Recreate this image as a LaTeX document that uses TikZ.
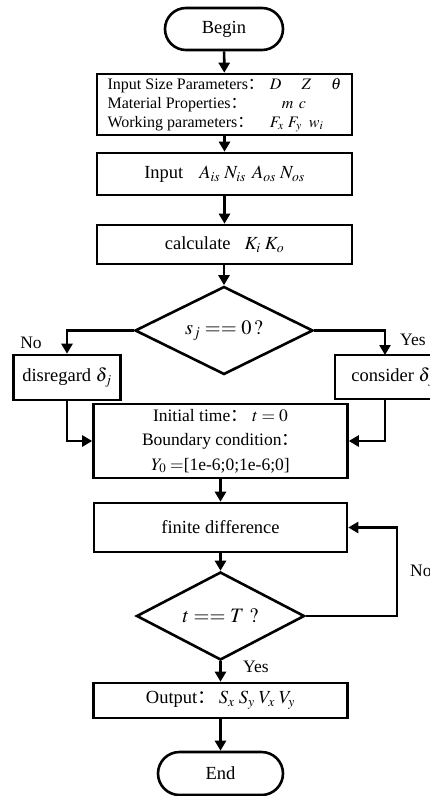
\documentclass[tikz,border=0pt]{standalone}
\usepackage{mathptmx}
\usepackage{fontspec}
\setmainfont{Liberation Serif}
\newfontfamily\cjk{Noto Sans CJK SC}
\usetikzlibrary{shapes.geometric,shapes.misc,arrows.meta}
\newcommand{\fwc}{{\cjk ：}}
\begin{document}
\begin{tikzpicture}[x=1pt,y=-1pt,
  base/.style={draw, line width=2.6pt, inner sep=0pt, font=\fontsize{18.5}{22}\selectfont},
  procbox/.style={base, rectangle},
  termbox/.style={base, rounded rectangle},
  decbox/.style={base, diamond, aspect=2},
  lbl/.style={inner sep=0pt, font=\fontsize{17.5}{20}\selectfont},
  arr/.style={line width=2.6pt, -{Triangle[length=10pt,width=11pt]}},
  ln/.style={line width=2.6pt}
]
\useasboundingbox (0,0) rectangle (430,796);

\node[termbox, minimum width=118pt, minimum height=42pt] (begin) at (224,29) {Begin};

\node[procbox, minimum width=255pt, minimum height=61pt] (in1) at (224.5,104.5) {%
  \fontsize{16}{19}\selectfont
  \begin{tabular}{@{}l@{\hspace{6pt}}l@{}}
  Input Size Parameters\fwc & $D\hspace{20pt}Z\hspace{20pt}\theta$\\
  Material Properties\fwc & \hspace{12pt}$m\;\, c$\\
  Working parameters\fwc & $F_x\hspace{4pt}F_y\;\;w_i$
  \end{tabular}};

\node[procbox, minimum width=255pt, minimum height=42pt] (in2) at (224.5,174) {Input\hspace{16pt}$A_{is}\;N_{is}\;\,A_{os}\;N_{os}$};

\node[procbox, minimum width=255pt, minimum height=39pt] (calc) at (224.5,244.5) {calculate\hspace{14pt}$K_i\;K_o$\hspace{10pt}};

\node[decbox, minimum width=178pt, minimum height=88pt] (d1) at (224,330.5) {\fontsize{20.5}{24}\selectfont $s_j == 0\,?$};

\node[procbox, minimum width=107pt, minimum height=45pt] (dis) at (67,377.5) {disregard $\delta_j$};
\node[procbox, minimum width=116pt, minimum height=44pt] (con) at (393,377) {consider $\delta_j$};

\node[procbox, minimum width=254pt, minimum height=74pt, align=center, font=\fontsize{17.5}{24.5}\selectfont] (init) at (220.5,441)
  {Initial time\fwc\ $t=0$\\ Boundary condition\fwc\\ $Y_0=$[1e-6;0;1e-6;0]};

\node[procbox, minimum width=253pt, minimum height=49pt] (fd) at (220.5,527.5) {finite difference};

\node[decbox, minimum width=168pt, minimum height=88pt] (d2) at (220.5,616) {\fontsize{20.5}{24}\selectfont $t == T\ ?$};

\node[procbox, minimum width=254pt, minimum height=35pt] (out) at (220.5,700.5) {Output\fwc\hspace{3pt}$S_x\;S_y\;V_x\;V_y$\hspace{10pt}};

\node[termbox, minimum width=125pt, minimum height=43pt] (end) at (220.5,773.5) {End};

\coordinate (loopc) at (397,616);
\coordinate (contop) at (385,355);
\coordinate (conbot) at (385,399);

\node[lbl] (no1) at (31,343) {No};
\node[lbl, anchor=west] (yes1) at (400,340) {Yes};
\node[lbl, anchor=west] (no2) at (410,571) {No};
\node[lbl, anchor=west] (yes2) at (243,667) {Yes};

\draw[arr] (begin) -- (in1);
\draw[arr] (in1) -- (in2);
\draw[arr] (in2) -- (calc);
\draw[arr] (calc.south -| d1.north) -- (d1.north);
\draw[arr] (d1.west) -| (dis.north);
\draw[arr] (d1.east) -| (contop);
\draw[arr] (dis.south) |- (init.west);
\draw[arr] (conbot) |- (init.east);
\draw[arr] (init) -- (fd);
\draw[arr] (fd) -- (d2);
\draw[arr] (d2) -- (out);
\draw[arr] (out) -- (end);
\draw[arr] (d2.east) -- (loopc) |- (fd.east);
\end{tikzpicture}
\end{document}
